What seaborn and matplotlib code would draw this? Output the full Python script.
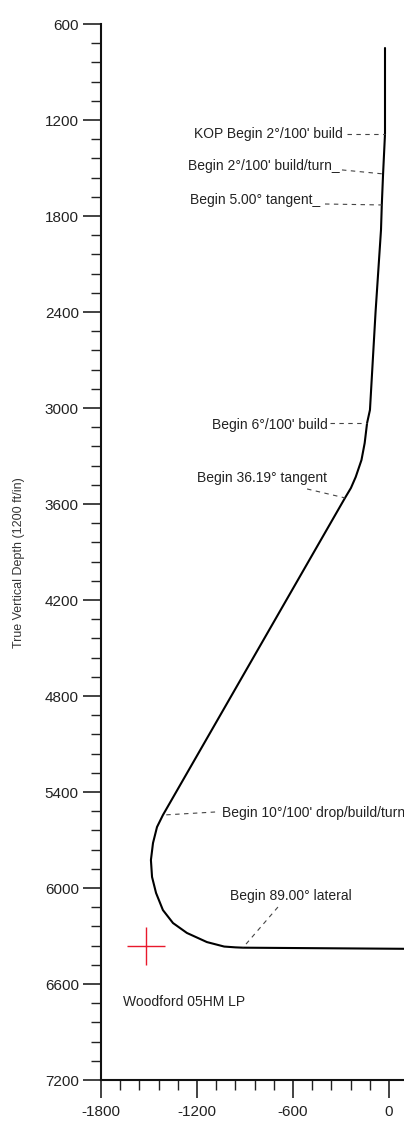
import numpy as np
import pandas as pd
import matplotlib
matplotlib.use("Agg")
import matplotlib.pyplot as plt
from matplotlib.ticker import MultipleLocator
import seaborn as sns

# well path: vertical section (ft) and true vertical depth (ft)
vs = [-25, -25, -37, -45, -50, -84, -119, -137, -152, -172, -208, -238, -275,
      -1413, -1450, -1475, -1488, -1481, -1456, -1413, -1350, -1263,
      -1138, -1030, -960, -913, 94, 300]
tvd = [750, 1287, 1537, 1731, 1887, 2400, 3012, 3094, 3219, 3325, 3431, 3500, 3562,
       5544, 5619, 5719, 5825, 5931, 6031, 6138, 6219, 6281,
       6338, 6366, 6371, 6373, 6380, 6384]

# survey markers
marker_labels = ["KOP Begin 2°/100' build", "Begin 2°/100' build/turn_",
                 "Begin 5.00° tangent_", "Begin 6°/100' build",
                 "Begin 36.19° tangent", "Begin 10°/100' drop/build/turn",
                 "Begin 89.00° lateral"]
marker_vs = [-25, -37, -45, -137, -275, -1413, -913]
marker_tvd = [1287, 1537, 1731, 3094, 3562, 5544, 6373]

target_name = "Woodford 05HM LP"
target_vs = [-1519]
target_tvd = [6362]

y_ticks = [600, 1200, 1800, 2400, 3000, 3600, 4200, 4800, 5400, 6000, 6600, 7200]
x_ticks = [-1800, -1200, -600, 0]

df = pd.DataFrame({"vs": vs, "tvd": tvd})

sns.set_theme(style="ticks")
plt.rcParams["font.family"] = ["Liberation Sans", "DejaVu Sans"]
plt.rcParams["axes.unicode_minus"] = False

fig = plt.figure(figsize=(4.04, 11.25), dpi=100)
ax = fig.add_axes([101 / 404, 45 / 1125, 303 / 404, 1056 / 1125])

sns.lineplot(data=df, x="vs", y="tvd", sort=False, estimator=None,
             color="black", linewidth=1.5, ax=ax)

# target cross
ax.scatter(target_vs, target_tvd, marker="+", s=750, color="#e8192c",
           linewidths=1.0, zorder=3)
ax.text(-1662, 6712, target_name, fontsize=10, color="#222222",
        ha="left", va="center")

# label text anchors (left or right end) and leader start points
txt_pos = [(-287, 1287, "right"), (-306, 1487, "right"), (-431, 1700, "right"),
           (-381, 3106, "right"), (-387, 3437, "right"), (-1044, 5531, "left"),
           (-994, 6050, "left")]
lead_start = [(-262, 1287), (-294, 1512), (-400, 1725), (-369, 3094),
              (-512, 3506), (-1087, 5525), (-694, 6119)]

for lab, (tx, ty, ha), (lx, ly), mx, my in zip(marker_labels, txt_pos, lead_start,
                                               marker_vs, marker_tvd):
    ax.text(tx, ty, lab, fontsize=10, color="#222222", ha=ha, va="center",
            clip_on=False)
    ax.plot([lx, mx], [ly, my], color="#444444", linewidth=0.8,
            linestyle=(0, (4, 4)))

ax.set_xlim(-1800, -1800 + 303 / 0.16)
ax.set_ylim(7200, 600)
ax.set_xticks(x_ticks)
ax.set_yticks(y_ticks)
ax.xaxis.set_minor_locator(MultipleLocator(120))
ax.yaxis.set_minor_locator(MultipleLocator(120))
ax.tick_params(axis="both", which="major", direction="out", length=13,
               width=1.2, labelsize=11, colors="#222222")
ax.tick_params(axis="both", which="minor", direction="out", length=7, width=1.0,
               colors="#222222")
ax.tick_params(axis="y", which="major", pad=3)
ax.tick_params(axis="x", which="major", pad=5)

sns.despine(ax=ax, top=True, right=True)
for s in ["left", "bottom"]:
    ax.spines[s].set_linewidth(1.5)
    ax.spines[s].set_color("#111111")

ax.set_xlabel("")
ax.set_ylabel("True Vertical Depth (1200 ft/in)", fontsize=9, color="#333333")
ax.yaxis.set_label_coords(-0.25, 0.49)

fig.savefig("out.png", dpi=100)
